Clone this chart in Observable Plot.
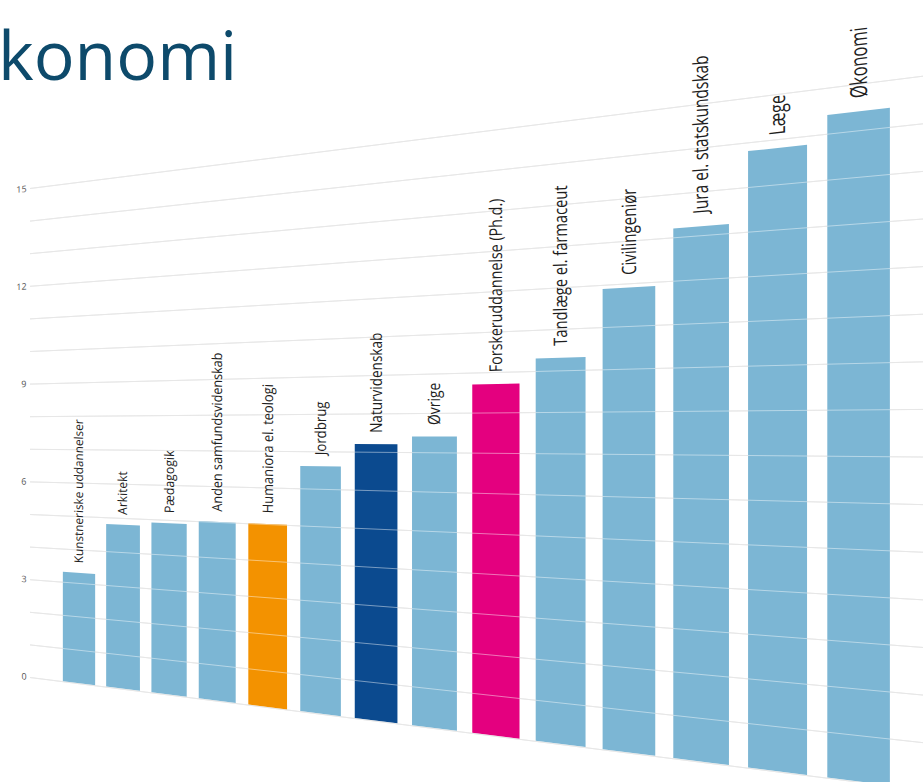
<!DOCTYPE html>
<html>
<head>
<meta charset="utf-8">
<script src="https://cdn.jsdelivr.net/npm/d3@7"></script>
<script src="https://cdn.jsdelivr.net/npm/@observablehq/plot@0.6"></script>
<style>
  html, body { margin: 0; padding: 0; background: #fff; }
  body { width: 923px; height: 782px; overflow: hidden; position: relative; font-family: "Open Sans", sans-serif; }
  #title { position: absolute; left: -43px; top: 20px; font-size: 68px; line-height: 1; color: #0d4a6b; font-family: "Open Sans", sans-serif; white-space: nowrap; z-index: 2; }
  #chart { position: absolute; left: 0; top: 0; }
</style>
</head>
<body>
<div id="chart"></div>
<div id="title">økonomi</div>
<script>
// Data
const categories = [
  "Kunstneriske uddannelser", "Arkitekt", "Pædagogik", "Anden samfundsvidenskab",
  "Humaniora el. teologi", "Jordbrug", "Naturvidenskab", "Øvrige",
  "Forskeruddannelse (Ph.d.)", "Tandlæge el. farmaceut", "Civilingeniør",
  "Jura el. statskundskab", "Læge", "Økonomi"
];
const values = [3.3, 4.8, 4.9, 5.0, 5.0, 6.6, 7.2, 7.4, 8.7, 9.3, 10.9, 12.2, 13.8, 14.4];
const yTickLabels = [0, 3, 6, 9, 12, 15];
const gridValues = [0, 1, 2, 3, 4, 5, 6, 7, 8, 9, 10, 11, 12, 13, 14, 15];

// Styling (highlighted categories)
const baseColor = "#7cb6d4";
const highlight = {
  "Humaniora el. teologi": "#f39200",
  "Naturvidenskab": "#0b4a8f",
  "Forskeruddannelse (Ph.d.)": "#e4007f"
};

const data = categories.map((c, i) => ({category: c, value: values[i]}));

const W = 650, H = 700, ML = 30;
const svg = Plot.plot({
  width: W,
  height: H,
  marginLeft: ML,
  marginRight: 8,
  marginTop: 188,
  marginBottom: 23,
  style: {background: "transparent", overflow: "visible"},
  x: {type: "band", domain: categories, range: [ML + 32.3, ML + 595.8], paddingInner: 0.25, paddingOuter: 0, round: false, axis: null},
  y: {domain: [0, 15], axis: null},
  marks: [
    Plot.ruleY(gridValues, {stroke: "#d4d4d4", strokeWidth: 1}),
    Plot.barY(data, {x: "category", y: "value", fill: d => highlight[d.category] || baseColor}),
    Plot.ruleY(gridValues, {stroke: "#ffffff", strokeOpacity: 0.45, strokeWidth: 1}),
    Plot.text(data, {
      x: "category", y: "value", text: "category", rotate: -90,
      textAnchor: "start", dy: -10, fontSize: 11.5, fill: "#1e1e1e",
      fontFamily: "Open Sans"
    }),
    Plot.text(yTickLabels, {
      y: d => d, text: d => String(d), frameAnchor: "left", textAnchor: "end",
      dx: -4, fontSize: 9, fill: "#555555", fontFamily: "Open Sans"
    })
  ]
});
document.getElementById("chart").appendChild(svg);

// Perspective (homography): vanishing point far to the left, horizon at value 7.5
const D = 1940;   // distance (px) from left frame edge to vanishing point
const yH = 432.5; // horizon in flat coordinates
const X0 = ML;
const kk = D + X0;
function proj(x, y) {
  const w = kk - x;
  return [((D - X0) * x + X0 * X0) / w, (-yH * x + D * y + yH * X0) / w];
}
function jac(x, y) {
  const e = 0.01, p = proj(x, y), px = proj(x + e, y), py = proj(x, y + e);
  return [(px[0] - p[0]) / e, (px[1] - p[1]) / e, (py[0] - p[0]) / e, (py[1] - p[1]) / e];
}
const NS = "http://www.w3.org/2000/svg";
const out = document.createElementNS(NS, "g");
const elems = Array.from(svg.querySelectorAll("rect, line, text"));
for (const el of elems) {
  const m = el.getCTM();
  const cs = getComputedStyle(el);
  const tp = (x, y) => { const q = new DOMPoint(x, y).matrixTransform(m); return proj(q.x, q.y); };
  if (el.tagName === "rect") {
    const x = +el.getAttribute("x") || 0, y = +el.getAttribute("y") || 0;
    const w = +el.getAttribute("width"), h = +el.getAttribute("height");
    const pts = [tp(x, y), tp(x + w, y), tp(x + w, y + h), tp(x, y + h)];
    const poly = document.createElementNS(NS, "polygon");
    poly.setAttribute("points", pts.map(p => p.join(",")).join(" "));
    poly.setAttribute("fill", cs.fill);
    out.appendChild(poly);
  } else if (el.tagName === "line") {
    const a = tp(+el.getAttribute("x1"), +el.getAttribute("y1"));
    const b = tp(+el.getAttribute("x2"), +el.getAttribute("y2"));
    const ln = document.createElementNS(NS, "line");
    ln.setAttribute("x1", a[0]); ln.setAttribute("y1", a[1]);
    ln.setAttribute("x2", b[0]); ln.setAttribute("y2", b[1]);
    ln.setAttribute("stroke", cs.stroke);
    ln.setAttribute("stroke-opacity", cs.strokeOpacity);
    ln.setAttribute("stroke-width", cs.strokeWidth);
    out.appendChild(ln);
  } else if (el.tagName === "text") {
    const x0 = +el.getAttribute("x") || 0, y0 = +el.getAttribute("y") || 0;
    const q = new DOMPoint(x0, y0).matrixTransform(m);
    const P = proj(q.x, q.y);
    const J = jac(q.x, q.y);
    const a = J[0] * m.a + J[2] * m.b, b = J[1] * m.a + J[3] * m.b;
    const c = J[0] * m.c + J[2] * m.d, d = J[1] * m.c + J[3] * m.d;
    const e = P[0] - (a * x0 + c * y0), f = P[1] - (b * x0 + d * y0);
    const t = el.cloneNode(true);
    t.setAttribute("transform", `matrix(${a},${b},${c},${d},${e},${f})`);
    t.setAttribute("fill", cs.fill);
    t.setAttribute("font-size", cs.fontSize);
    t.setAttribute("font-family", cs.fontFamily);
    t.setAttribute("text-anchor", cs.textAnchor);
    out.appendChild(t);
  }
}
for (const child of Array.from(svg.children)) {
  if (child.tagName !== "style" && child.tagName !== "defs") svg.removeChild(child);
}
svg.appendChild(out);
svg.setAttribute("width", 923);
svg.setAttribute("height", 782);
svg.setAttribute("viewBox", "0 0 923 782");
</script>
</body>
</html>
